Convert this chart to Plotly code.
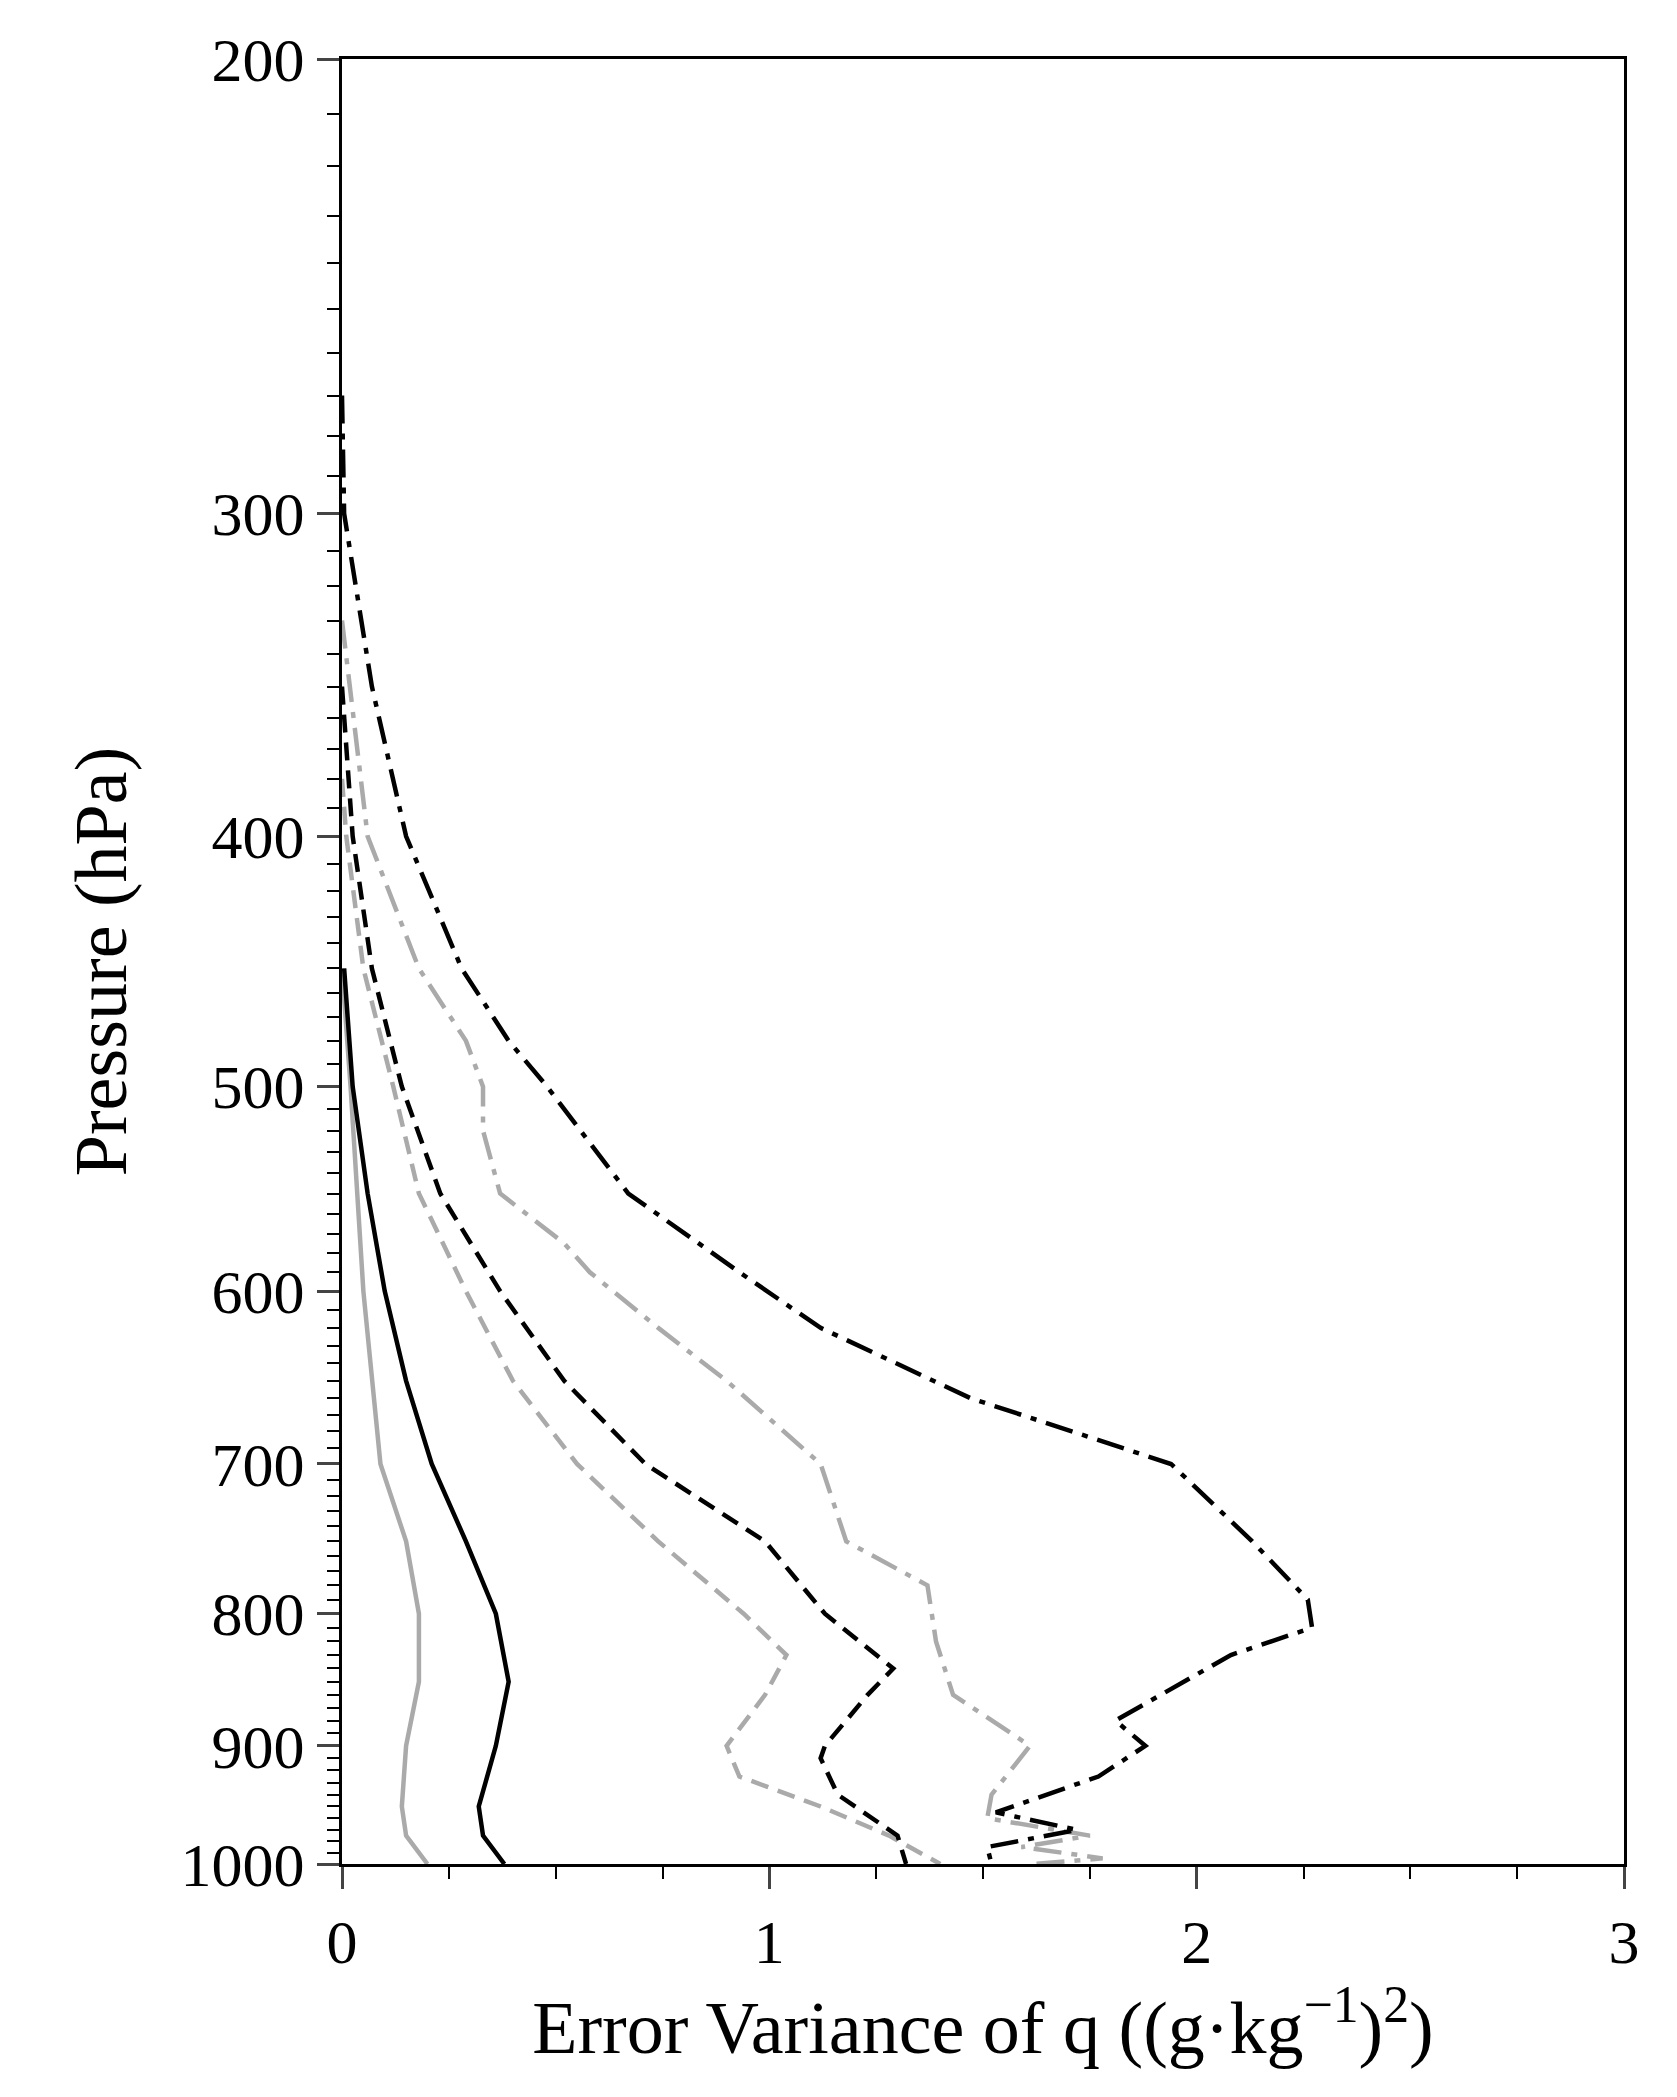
import plotly.graph_objects as go

p_gray_solid = [450, 500, 600, 700, 750, 800, 850, 900, 950, 975, 1000]
x_gray_solid = [0.0, 0.02, 0.05, 0.09, 0.15, 0.18, 0.18, 0.15, 0.14, 0.15, 0.2]
p_black_solid = [450, 500, 550, 600, 650, 700, 750, 800, 850, 900, 950, 975, 1000]
x_black_solid = [0.005, 0.025, 0.06, 0.1, 0.15, 0.21, 0.29, 0.36, 0.39, 0.36, 0.32, 0.33, 0.38]
p_black_dash = [350, 400, 450, 500, 550, 600, 650, 700, 750, 800, 840, 860, 900, 910, 940, 960, 975, 1000]
x_black_dash = [0.0, 0.025, 0.07, 0.14, 0.23, 0.37, 0.52, 0.71, 0.99, 1.13, 1.29, 1.23, 1.13, 1.12, 1.16, 1.24, 1.3, 1.32]
p_gray_dash = [380, 400, 450, 500, 550, 600, 650, 700, 750, 800, 830, 860, 900, 925, 950, 975, 1000]
x_gray_dash = [0.0, 0.01, 0.05, 0.12, 0.18, 0.29, 0.4, 0.55, 0.74, 0.94, 1.04, 0.99, 0.9, 0.93, 1.12, 1.28, 1.4]
p_gray_dashdot = [330, 400, 450, 480, 500, 520, 550, 575, 590, 620, 650, 700, 750, 780, 820, 860, 900, 940, 960, 975, 985, 995, 1000]
x_gray_dashdot = [0.0, 0.06, 0.18, 0.29, 0.33, 0.33, 0.37, 0.52, 0.58, 0.74, 0.9, 1.12, 1.18, 1.37, 1.39, 1.43, 1.61, 1.52, 1.51, 1.75, 1.59, 1.78, 1.62]
p_black_dashdot = [270, 300, 350, 400, 450, 480, 500, 550, 590, 620, 660, 700, 750, 790, 810, 830, 880, 900, 925, 955, 970, 985, 1000]
x_black_dashdot = [0.0, 0.005, 0.07, 0.15, 0.28, 0.39, 0.48, 0.67, 0.93, 1.12, 1.47, 1.94, 2.13, 2.26, 2.27, 2.08, 1.81, 1.88, 1.77, 1.53, 1.72, 1.51, 1.52]

y_ticks = [200, 300, 400, 500, 600, 700, 800, 900, 1000]
y_minor = list(range(210, 1000, 10))
x_ticks = [0, 1, 2, 3]

GRAY = "#aaaaaa"
DD = "28px,10px,6px,10px"
series = [
    (x_gray_solid, p_gray_solid, GRAY, "solid"),
    (x_black_solid, p_black_solid, "black", "solid"),
    (x_gray_dash, p_gray_dash, GRAY, "18px,10px"),
    (x_black_dash, p_black_dash, "black", "18px,10px"),
    (x_gray_dashdot, p_gray_dashdot, GRAY, DD),
    (x_black_dashdot, p_black_dashdot, "black", DD),
]
fig = go.Figure()
for x, p, c, d in series:
    fig.add_trace(go.Scatter(x=x, y=p, mode="lines", line=dict(color=c, width=4.5, dash=d), showlegend=False))

font = dict(family="Liberation Serif", size=62, color="black")
fig.update_layout(
    width=1677, height=2097, margin=dict(l=334, r=61, t=51, b=241),
    plot_bgcolor="white", paper_bgcolor="white", font=font,
)
fig.update_xaxes(range=[0, 3], tickvals=x_ticks, ticks="outside", ticklen=22, tickwidth=3,
                 showline=True, linecolor="black", linewidth=3, mirror=True, showgrid=False, zeroline=False,
                 minor=dict(dtick=0.25, ticks="outside", ticklen=12, tickwidth=2, tickcolor="black", showgrid=False),
                 title=dict(text="Error Variance of q ((g·kg<sup>−1</sup>)<sup>2</sup>)", standoff=25))
fig.update_yaxes(type="log", range=[3, 2.30103], tickvals=y_ticks, ticktext=[str(v) for v in y_ticks],
                 ticks="outside", ticklen=22, tickwidth=3, showline=True, linecolor="black", linewidth=3,
                 mirror=True, showgrid=False, zeroline=False,
                 minor=dict(tickvals=y_minor, ticks="outside", ticklen=12, tickwidth=2, tickcolor="black", showgrid=False),
                 title=dict(text="Pressure (hPa)", standoff=30))
fig.write_html("out.html")
